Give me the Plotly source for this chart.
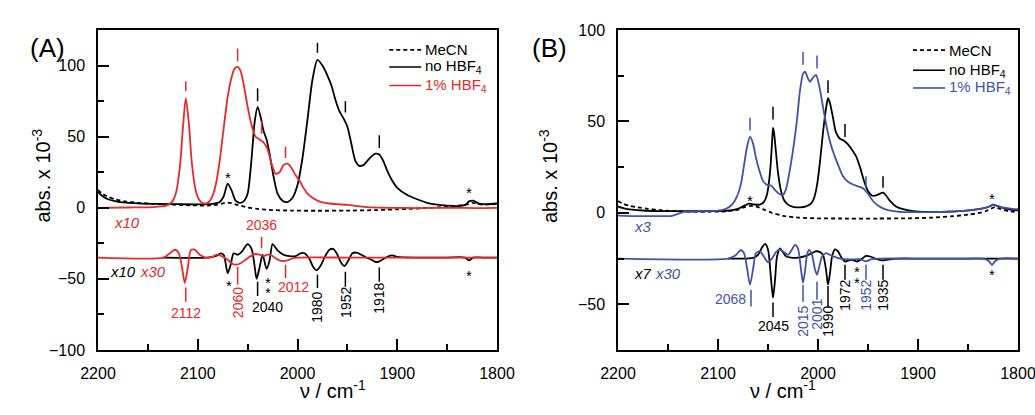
import plotly.graph_objects as go

RED = "#e8282d"
BLUE = "#3f51a8"
FONT = "Liberation Sans, Arial, sans-serif"

# ---------------- panel A : absorbance spectra (x 10^-3) ----------------
A_MECN_WN = [2200, 2196, 2190, 2182, 2172, 2160, 2145, 2125, 2105, 2090, 2080, 2074, 2070, 2066, 2060, 2050,
             2040, 2025, 2005, 1980, 1950, 1920, 1900, 1880, 1860, 1845, 1835, 1829, 1825, 1821, 1812, 1800]
A_MECN_ABS = [12.5, 10, 7.8, 5.8, 4.4, 3.5, 2.8, 2.2, 1.7, 1.6, 2.2, 3.2, 3.6, 3.2, 2, 0.2,
              -0.8, -1.6, -2, -2.1, -2, -1.6, -1.1, -0.5, 0.3, 1, 1.8, 2.6, 3.6, 2.8, 2.2, 2.8]

A_NOACID_WN = [2200, 2196, 2190, 2182, 2172, 2160, 2140, 2120, 2100, 2085, 2078, 2074, 2070, 2066, 2062, 2058,
               2054, 2050, 2046, 2043, 2040, 2037, 2034, 2031, 2028, 2024, 2020, 2015, 2010, 2005, 2000, 1995,
               1990, 1985, 1980, 1975, 1970, 1966, 1962, 1958, 1954, 1950, 1946, 1942, 1938, 1934, 1930, 1926,
               1922, 1918, 1914, 1910, 1905, 1900, 1890, 1880, 1870, 1860, 1850, 1840, 1832, 1828, 1824, 1818,
               1810, 1800]
A_NOACID_ABS = [11, 8.5, 6, 4.5, 3.6, 3.1, 2.7, 2.5, 2.4, 2.8, 4, 8, 17, 12, 5, 3.5,
                4.5, 10, 35, 60, 71, 64, 54, 48, 38, 22, 10, 5, 4, 7, 16, 35,
                62, 90, 104, 100, 93, 86, 76, 68, 63, 57, 45, 33, 29.5, 30, 33, 36,
                38, 37.5, 33, 26, 19, 14, 9, 6, 3.5, 2.2, 1.5, 1.2, 2, 4.5, 5, 3,
                2.5, 3]

A_ACID_WN = [2200, 2170, 2145, 2132, 2126, 2122, 2118, 2115, 2112, 2109, 2106, 2102, 2098, 2094, 2090, 2086,
             2082, 2078, 2074, 2070, 2066, 2063, 2060, 2057, 2054, 2050, 2046, 2042, 2038, 2034, 2030, 2026,
             2022, 2018, 2014, 2010, 2006, 2002, 1998, 1994, 1990, 1985, 1980, 1975, 1968, 1960, 1950, 1940,
             1930, 1910, 1880, 1850, 1820, 1800]
A_ACID_ABS = [0, 0.2, 0.5, 1.5, 4, 10, 28, 55, 77, 60, 32, 12, 5, 3, 3.5, 7,
              16, 33, 56, 78, 92, 98, 99, 96, 87, 71, 58, 50, 48, 46, 41, 31,
              24, 25, 30, 31, 28, 23, 19, 14, 10, 7, 5, 3.8, 3, 2.5, 2, 1.2,
              0.4, 0, -0.2, 0, -0.2, 0]

# second-derivative traces, offset to -35
A_NOACID_D_WN = [2135, 2090, 2082, 2077, 2074, 2070, 2067, 2064, 2060, 2056, 2050, 2046, 2043, 2041, 2038, 2035,
                 2031, 2028, 2025, 2020, 2014, 2008, 2002, 1997, 1993, 1988, 1984, 1981, 1977, 1973, 1968, 1964,
                 1960, 1956, 1953, 1949, 1945, 1941, 1936, 1931, 1926, 1922, 1919, 1915, 1910, 1905, 1900, 1880,
                 1850, 1832, 1828, 1824, 1815, 1800]
A_NOACID_D_ABS = [-35, -35, -34, -32, -33, -46, -40, -32, -33, -31, -25.5, -29, -41, -50, -42, -33,
                  -43, -37, -25.5, -30, -33, -34, -34, -32, -32, -36, -42, -44, -41, -35, -29.5, -29,
                  -33, -39, -41, -37, -32, -31.5, -33, -35, -36.5, -38, -38, -36.5, -34.5, -33.5, -34.5, -35,
                  -35, -35, -37, -35, -35, -35]

A_ACID_D_WN = [2200, 2134, 2128, 2123, 2119, 2116, 2113, 2110, 2107, 2103, 2098, 2092, 2085, 2081, 2076, 2070,
               2065, 2061, 2057, 2052, 2047, 2042, 2038, 2034, 2030, 2026, 2022, 2018, 2014, 2010, 2005, 1998,
               1950, 1900, 1850, 1800]
A_ACID_D_ABS = [-35, -35, -32, -29.5, -32, -41, -53, -42, -30, -29.5, -33, -35, -34.5, -33, -34, -36.5,
                -39.5, -40, -39, -36.5, -34, -32.5, -33, -34, -33, -33.5, -35.5, -37, -37.5, -37, -35.5, -35,
                -35, -35, -35, -35]

# ---------------- panel B ----------------
B_MECN_WN = [2200, 2195, 2188, 2180, 2170, 2158, 2145, 2130, 2110, 2090, 2080, 2074, 2068, 2062, 2055, 2046,
             2035, 2020, 2000, 1970, 1940, 1910, 1885, 1865, 1850, 1840, 1832, 1827, 1823, 1818, 1810, 1800]
B_MECN_ABS = [6.5, 5, 3.8, 3, 2.2, 1.5, 1, 0.7, 0.6, 0.9, 1.7, 3, 3.8, 3.5, 2, 0,
              -1.6, -2.6, -3, -3.1, -3.1, -3, -2.6, -1.8, -1, -0.2, 1, 2.3, 3.2, 2.2, 1, 0.4]

B_NOACID_WN = [2200, 2194, 2186, 2175, 2160, 2140, 2110, 2090, 2080, 2074, 2069, 2064, 2058, 2054, 2051, 2048,
               2046, 2045, 2044, 2042, 2040, 2037, 2034, 2030, 2024, 2018, 2012, 2007, 2004, 2001, 1998, 1995,
               1992, 1990, 1988, 1985, 1982, 1978, 1974, 1970, 1966, 1962, 1958, 1954, 1950, 1946, 1942, 1938,
               1935, 1932, 1928, 1922, 1915, 1905, 1890, 1870, 1855, 1843, 1834, 1828, 1825, 1821, 1814, 1806,
               1800]
B_NOACID_ABS = [3.5, 2.5, 1.8, 1.3, 1, 0.9, 0.9, 1.2, 2.2, 3.8, 5, 4.6, 4.5, 6, 10, 22,
                38, 46.4, 44, 33, 22, 12, 7, 4.5, 3.2, 3, 3.5, 5, 8, 15, 28, 44,
                57, 62.7, 60, 52, 44, 40.5, 39.5, 37.5, 34.5, 31, 25, 17.5, 12, 9.5, 9.5, 10.5,
                11, 9.5, 6.5, 3.5, 2, 1, 0.5, 0.6, 1.1, 1.8, 2.6, 3.6, 4.5, 3.8, 2.5, 1.7,
                1.4]

B_ACID_WN = [2200, 2180, 2160, 2146, 2140, 2134, 2120, 2100, 2092, 2086, 2081, 2077, 2074, 2071, 2068, 2065,
             2062, 2058, 2055, 2051, 2047, 2043, 2039, 2035, 2032, 2028, 2024, 2021, 2018, 2015, 2013, 2010,
             2008, 2005, 2002, 1999, 1995, 1991, 1987, 1983, 1979, 1975, 1970, 1965, 1960, 1955, 1950, 1945,
             1940, 1934, 1925, 1910, 1890, 1870, 1855, 1843, 1834, 1828, 1825, 1821, 1814, 1806, 1800]
B_ACID_ABS = [-1.5, -1.8, -1.8, -1.6, -0.5, 0.5, 0.8, 1.2, 2.2, 4.5, 9, 16, 26, 36, 41.7, 38,
              30, 22, 17.5, 15.3, 15, 12.5, 10.5, 9.8, 13, 24, 38, 51, 67, 76, 77.2, 73.5,
              71.7, 74, 75.4, 70, 58, 46, 37, 30.6, 25, 20, 17, 15.5, 14.5, 13.5, 10.5, 6.5,
              4, 2.2, 1, 0.4, 0.4, 0.6, 1.1, 1.8, 2.6, 3.6, 4.5, 3.8, 2.8, 2.2, 2]

B_NOACID_D_WN = [2090, 2072, 2064, 2060, 2056, 2053, 2050, 2047, 2045, 2043, 2041, 2038, 2035, 2032, 2027, 2020,
                 2012, 2006, 2002, 1998, 1995, 1992, 1990, 1988, 1986, 1983, 1980, 1977, 1973, 1968, 1964, 1961,
                 1957, 1952, 1947, 1942, 1936, 1930, 1920, 1900, 1850, 1800]
B_NOACID_D_ABS = [-25, -25, -24.5, -23, -19, -17, -20, -36, -46.5, -37, -24, -19.5, -21.5, -23.8, -24.5, -24.5,
                  -23.5, -22, -21, -21.5, -23, -31, -39.3, -33, -24, -20, -21, -24, -26.6, -25.8, -26, -26.6,
                  -25.5, -23.5, -24, -25.2, -26, -25.5, -25, -25, -25, -25]

B_ACID_D_WN = [2200, 2090, 2083, 2077, 2074, 2071, 2068, 2065, 2062, 2058, 2054, 2050, 2046, 2042, 2038, 2034,
               2030, 2026, 2023, 2020, 2017, 2015, 2013, 2011, 2009, 2006, 2003, 2001, 1999, 1996, 1992, 1986,
               1978, 1968, 1958, 1952, 1946, 1938, 1900, 1850, 1834, 1829, 1826, 1823, 1818, 1800]
B_ACID_D_ABS = [-25, -25, -23.5, -20.3, -22, -30, -39.3, -31, -22, -21, -24, -27, -25, -21.5, -20, -21.5,
                -23, -20, -17.5, -19.5, -31, -38.3, -32, -23, -20.3, -23, -31, -33.8, -30, -24, -22, -23.5,
                -25, -25.5, -25.3, -26.5, -25.3, -25, -25, -25, -25, -26.5, -28.5, -26.5, -25, -25]

X_TICKS = [2200, 2100, 2000, 1900, 1800]
X_MINOR = [2150, 2050, 1950, 1850]
A_Y_TICKS = [-100, -50, 0, 50, 100]
A_Y_MINOR = [-75, -25, 25, 75]
B_Y_TICKS = [-50, 0, 50, 100]
B_Y_MINOR = [-25, 25, 75]

fig = go.Figure()


def curve(ax, x, y, color, dash="solid"):
    fig.add_trace(go.Scatter(x=x, y=y, mode="lines", xaxis="x" + ax, yaxis="y" + ax,
                             line=dict(color=color, width=1.8, dash=dash, shape="spline", smoothing=0.7),
                             showlegend=False, hoverinfo="skip"))


def mark(ax, x, y0, y1, color="black"):
    fig.add_shape(type="line", xref="x" + ax, yref="y" + ax, x0=x, x1=x, y0=y0, y1=y1,
                  line=dict(color=color, width=1.5))


def label(ax, x, y, s, color="black", size=14, angle=0, xanchor="center"):
    fig.add_annotation(xref="x" + ax, yref="y" + ax, x=x, y=y, text=s, showarrow=False,
                       textangle=angle, xanchor=xanchor,
                       font=dict(color=color, size=size, family=FONT))


# panel A curves
curve("", A_MECN_WN, A_MECN_ABS, "black", "4px,3px")
curve("", A_NOACID_WN, A_NOACID_ABS, "black")
curve("", A_ACID_WN, A_ACID_ABS, RED)
curve("", A_NOACID_D_WN, A_NOACID_D_ABS, "black")
curve("", A_ACID_D_WN, A_ACID_D_ABS, RED)

# panel B curves
curve("2", B_MECN_WN, B_MECN_ABS, "black", "4px,3px")
curve("2", B_NOACID_WN, B_NOACID_ABS, "black")
curve("2", B_ACID_WN, B_ACID_ABS, BLUE)
curve("2", B_NOACID_D_WN, B_NOACID_D_ABS, "black")
curve("2", B_ACID_D_WN, B_ACID_D_ABS, BLUE)

# ---- panel A annotations ----
for x, y0, y1, c in [(2112, 82, 89, RED), (2060, 103, 112, RED), (2036, 52, 61, RED), (2012, 35, 43, RED),
                     (2040, 75, 84, "black"), (1980, 109, 116, "black"), (1952, 67, 75, "black"),
                     (1918, 42, 51, "black")]:
    mark("", x, y0, y1, c)
for x, y0, y1, c in [(2112, -56, -66, RED), (2060, -41.5, -54, RED), (2036, -20.5, -28.5, RED),
                     (2012, -40, -49.5, RED), (2040, -52, -62, "black"), (1980, -47, -56.5, "black"),
                     (1952, -45, -55.5, "black"), (1918, -42, -52, "black")]:
    mark("", x, y0, y1, c)
label("", 2070, 21.5, "*", size=15)
label("", 1828, 11, "*", size=15)
label("", 2069, -54.8, "*", size=15)
label("", 2030, -52.4, "*", size=15)
label("", 2030, -59.4, "*", size=15)
label("", 1828, -47.8, "*", size=15)
label("", 2112, -74, "2112", RED)
label("", 2060, -66.6, "2060", RED, angle=-90)
label("", 2030, -69.5, "2040")
label("", 2036, -12.1, "2036", RED)
label("", 2004, -55.7, "2012", RED)
label("", 1980, -70, "1980", angle=-90)
label("", 1952, -66.6, "1952", angle=-90)
label("", 1919, -63.8, "1918", angle=-90)
label("", 2171, -10.5, "<i>x10</i>", RED, size=15)
label("", 2175, -45, "<i>x10</i>", size=15)
label("", 2145, -45, "<i>x30</i>", RED, size=15)

# ---- panel B annotations ----
for x, y0, y1, c in [(2068, 45, 52, BLUE), (2045, 51, 58, "black"), (2015, 81, 88, BLUE), (2001, 79, 86, BLUE),
                     (1990, 65.6, 72.5, "black"), (1973, 41.5, 48.6, "black"), (1952, 13.7, 20, BLUE),
                     (1935, 13.7, 20, "black")]:
    mark("2", x, y0, y1, c)
for x, y0, y1, c in [(2067, -42, -51.2, BLUE), (2045, -49, -57, "black"), (2015, -39.3, -48.6, BLUE),
                     (2001, -37.7, -47.5, BLUE), (1990, -40, -52, "black"), (1973, -28.4, -36.6, "black"),
                     (1952, -28.4, -36.6, BLUE), (1935, -28.4, -36.6, "black")]:
    mark("2", x, y0, y1, c)
label("2", 2068, 6.6, "*", size=15)
label("2", 1826, 7.7, "*", size=15)
label("2", 1961, -32.2, "*", size=15)
label("2", 1961, -38.3, "*", size=15)
label("2", 1826, -33.7, "*", size=15)
label("2", 2088, -47, "2068", BLUE)
label("2", 2045, -62, "2045")
label("2", 2015, -59.6, "2015", BLUE, angle=-90)
label("2", 2001, -55.7, "2001", BLUE, angle=-90)
label("2", 1990, -59.6, "1990", angle=-90)
label("2", 1973, -45.4, "1972", angle=-90)
label("2", 1952, -45.4, "1952", BLUE, angle=-90)
label("2", 1935, -45.4, "1935", angle=-90)
label("2", 2175, -7.7, "<i>x3</i>", BLUE, size=15)
label("2", 2175, -33.3, "<i>x7</i>", size=15)
label("2", 2150, -33.3, "<i>x30</i>", BLUE, size=15)

# ---- legends (drawn by hand like the original) ----
for ax, x0, x1, ys, acid_color in [("", 1908, 1876, [111, 99, 86], RED), ("2", 1905, 1873, [89, 78, 68.3], BLUE)]:
    names = ["MeCN", "no HBF<sub>4</sub>", "1% HBF<sub>4</sub>"]
    colors = ["black", "black", acid_color]
    dashes = ["4px,3px", "solid", "solid"]
    for y, n, c, d in zip(ys, names, colors, dashes):
        fig.add_shape(type="line", xref="x" + ax, yref="y" + ax, x0=x0, x1=x1, y0=y, y1=y,
                      line=dict(color=c, width=1.6, dash=d))
        label(ax, x1 - 2, y, n, c, size=15, xanchor="left")

axis = dict(showline=True, linecolor="black", linewidth=1.5, mirror=True, ticks="inside", ticklen=11,
            tickwidth=1.5, tickcolor="black", showgrid=False, zeroline=False, ticklabelstandoff=8,
            ticklabeloverflow="allow", automargin=False,
            tickfont=dict(size=16, color="black", family=FONT))
minor = dict(ticks="inside", ticklen=6, tickwidth=1.5, tickcolor="black", showgrid=False, tickmode="array")

xdomA = [98 / 1035, 497 / 1035]
xdomB = [618 / 1035, 1018 / 1035]
ydom = [1 - 350 / 415, 1 - 30 / 415]

fig.update_layout(
    width=1035, height=415, margin=dict(l=0, r=0, t=0, b=0, autoexpand=False), autosize=False,
    paper_bgcolor="white", plot_bgcolor="white",
    xaxis=dict(axis, domain=xdomA, range=[2200, 1800], tickvals=X_TICKS, anchor="y",
               minor=dict(minor, tickvals=X_MINOR)),
    yaxis=dict(axis, domain=ydom, range=[-100, 125], tickvals=A_Y_TICKS, anchor="x",
               minor=dict(minor, tickvals=A_Y_MINOR)),
    xaxis2=dict(axis, domain=xdomB, range=[2200, 1800], tickvals=X_TICKS, anchor="y2",
                minor=dict(minor, tickvals=X_MINOR)),
    yaxis2=dict(axis, domain=ydom, range=[-75, 100], tickvals=B_Y_TICKS, anchor="x2",
                minor=dict(minor, tickvals=B_Y_MINOR)),
)

for cx, yx in [(297.5, 26), (818, 548)]:
    fig.add_annotation(xref="paper", yref="paper", x=cx / 1035, y=1 - 404 / 415, text="ν / cm<sup>-1</sup>",
                       showarrow=False, font=dict(size=20, color="black", family=FONT))
    fig.add_annotation(xref="paper", yref="paper", x=yx / 1035, y=1 - 176 / 415, text="abs. x 10<sup>-3</sup>",
                       textangle=-90, showarrow=False, font=dict(size=20, color="black", family=FONT))
fig.add_annotation(xref="paper", yref="paper", x=28 / 1035, y=1 - 31 / 415, text="(A)", showarrow=False,
                   font=dict(size=26, color="black", family=FONT))
fig.add_annotation(xref="paper", yref="paper", x=549 / 1035, y=1 - 31 / 415, text="(B)", showarrow=False,
                   font=dict(size=26, color="black", family=FONT))

# the page's default body margin would shift the figure by 8 px
fig.write_html("out.html", config={"displayModeBar": False},
               post_script="document.body.style.margin = '0px';")
